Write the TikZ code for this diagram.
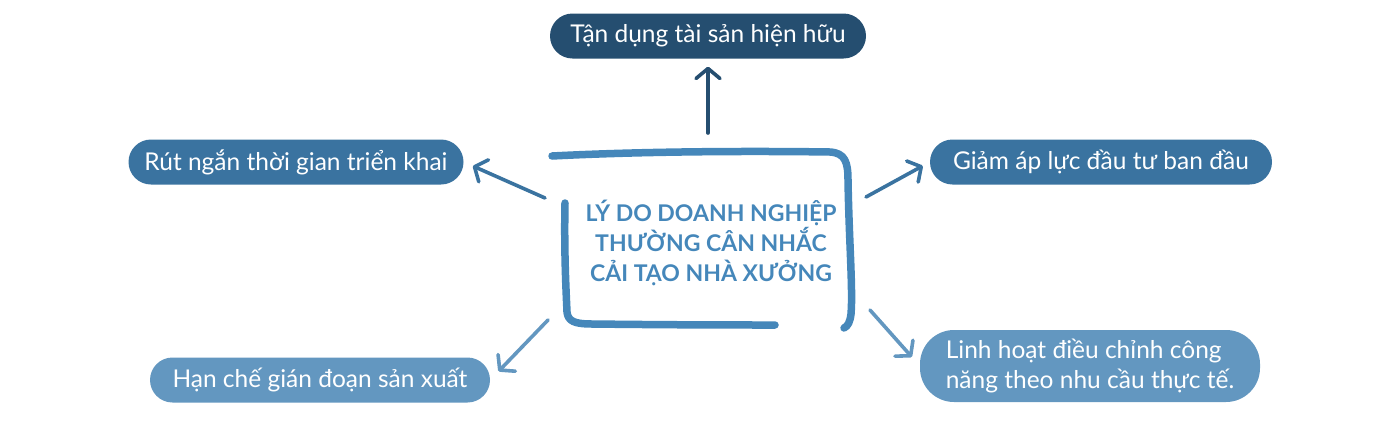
\documentclass[tikz,border=0pt]{standalone}
\usepackage{fontspec}
\setmainfont{Lato}
\usetikzlibrary{arrows.meta}
\definecolor{navy}{HTML}{254E70}
\definecolor{midblue}{HTML}{3A73A0}
\definecolor{lightblue}{HTML}{6397C0}
\definecolor{framecol}{HTML}{4587BA}
\begin{document}
\begin{tikzpicture}[x=1pt,y=-1pt,every node/.style={inner sep=0pt},
        >={Straight Barb[length=10pt,width=24pt,line cap=round,line join=round]},
        pill/.style={rounded corners=22.5pt,minimum height=45pt,text=white,
          font=\fontsize{24.5}{30}\selectfont},
        link/.style={->,line width=3.6pt,line cap=round,shorten >=8pt},
        frame/.style={framecol,line width=7.5pt,line cap=round}]
        \useasboundingbox (0,0) rectangle (1400,421);
        % ideas round the frame
        \node[pill,fill=navy,minimum width=316pt](reuse) at (708,36){Tận dụng tài sản hiện hữu};
        \node[pill,fill=midblue,minimum width=335pt](faster) at (296,162){Rút ngắn thời gian triển khai};
        \node[pill,fill=midblue,minimum width=342pt](cost) at (1101,162){Giảm áp lực đầu tư ban đầu};
        \node[pill,fill=lightblue,minimum width=340pt](output) at (320,380){Hạn chế gián đoạn sản xuất};
        \node[pill,fill=lightblue,minimum width=340pt,minimum height=72pt,rounded corners=34pt,
          align=left](flex) at (1090,366){Linh hoạt điều chỉnh công\\năng theo nhu cầu thực tế.};
        % hand drawn frame
        \draw[frame](552,156) .. controls (650,151) and (760,151) .. (830,152)
          .. controls (845,153) and (848,162) .. (848,180)
          .. controls (849,240) and (853,290) .. (851,314)
          .. controls (850,322) and (848,326) .. (844,328);
        \draw[frame](565,203) .. controls (564,250) and (566,290) .. (567,312)
          .. controls (568,321) and (574,324) .. (592,324)
          .. controls (680,325) and (740,325) .. (775,325);
        \node[framecol,align=center,font=\fontsize{23}{30}\bfseries\selectfont](title) at (711,243)
          {LÝ DO DOANH NGHIỆP\\THƯỜNG CÂN NHẮC\\CẢI TẠO NHÀ XƯỞNG};
        % arrows
        \coordinate (a1) at (708,133);
        \coordinate (a2) at (545,198);
        \coordinate (a3) at (866,197);
        \coordinate (a4) at (548,320);
        \coordinate (a5) at (870,310);
        \draw[link,navy](a1)--(reuse.south);
        \draw[link,midblue,shorten >=10pt](a2)--(faster.east);
        \draw[link,midblue](a3)--(cost.west);
        \draw[link,lightblue,shorten >=12pt](a4)--(output.east);
        \draw[link,lightblue,shorten >=12pt](a5)--(flex.west);
\end{tikzpicture}
\end{document}
